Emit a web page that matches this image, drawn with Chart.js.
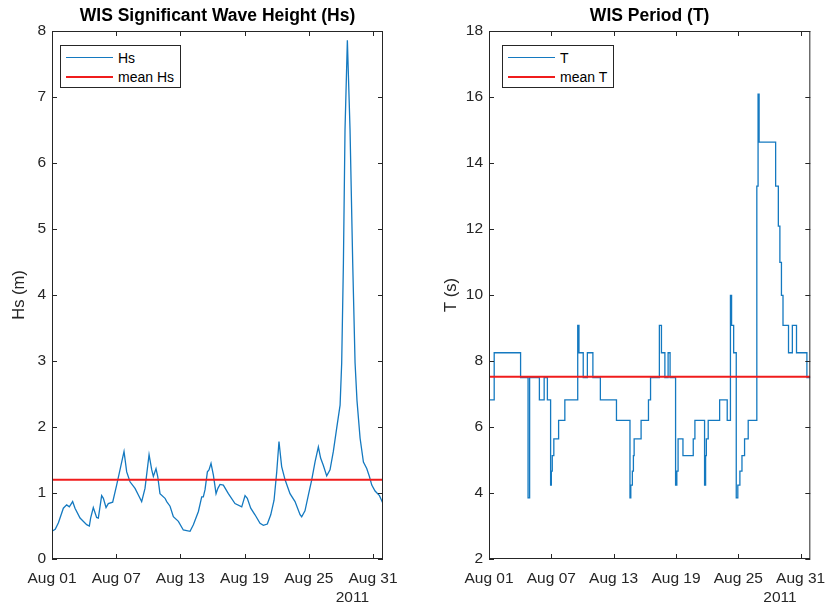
<!DOCTYPE html>
<html>
<head>
<meta charset="utf-8">
<script src="https://cdn.jsdelivr.net/npm/chart.js@4.4.1/dist/chart.umd.min.js"></script>
<style>
  body { margin: 0; background: #fff; }
  .panel { position: absolute; top: 0; width: 418px; height: 607px; }
  .legend {
    position: absolute;
    border: 1px solid #262626;
    background: #fff;
    font: 14px "Liberation Sans", Arial, sans-serif;
    color: #000;
    padding: 2px 6px 1px 5px;
  }
  .legend .row { display: flex; align-items: center; height: 19px; white-space: nowrap; }
  .legend .swatch { display: inline-block; width: 47px; height: 0; margin-right: 5px; }
</style>
</head>
<body>
<div class="panel" style="left:0">
  <canvas id="hsChart" width="418" height="607"></canvas>
  <div class="legend" id="hsLegend"></div>
</div>
<div class="panel" style="left:418px">
  <canvas id="tChart" width="418" height="607"></canvas>
  <div class="legend" id="tLegend"></div>
</div>

<script>
// days since Aug 01 2011 00:00
const tickDays = [0, 6, 12, 18, 24, 30];
const tickLabels = ['Aug 01', 'Aug 07', 'Aug 13', 'Aug 19', 'Aug 25', 'Aug 31'];
const yearLabel = '2011';
const lastDay = 30.93;

// significant wave height (m)
const hsDays = [
  0, 0.3, 0.6, 1.06, 1.37, 1.62, 1.93, 2.15, 2.62, 3.24, 3.49, 3.61, 3.86, 4.17, 4.33,
  4.64, 4.8, 5.05, 5.26, 5.67, 6.04, 6.42, 6.73, 6.98, 7.29, 7.76, 8.07, 8.38, 8.69,
  9.07, 9.32, 9.47, 9.72, 9.88, 10.09, 10.56, 10.72, 11.03, 11.34, 11.81, 12.27, 12.9,
  13.21, 13.68, 13.99, 14.14, 14.3, 14.52, 14.67, 14.86, 15.08, 15.33, 15.5, 15.7,
  16.01, 16.48, 17.1, 17.73, 18.04, 18.25, 18.57, 18.97, 19.44, 19.75, 20.12, 20.44,
  20.75, 21.0, 21.21, 21.46, 21.78, 22.24, 22.71, 23.18, 23.33, 23.64, 23.96, 24.27,
  24.58, 24.89, 25.1, 25.35, 25.67, 25.98, 26.29, 26.6, 26.92, 27.07, 27.23, 27.38,
  27.6, 27.85, 28.1, 28.32, 28.5, 28.79, 29.1, 29.41, 29.66, 29.88, 30.19, 30.6, 30.93
];
const hsValues = [
  0.42, 0.45, 0.55, 0.77, 0.82, 0.79, 0.87, 0.77, 0.62, 0.52, 0.5, 0.62, 0.78, 0.63, 0.62,
  0.96, 0.92, 0.78, 0.84, 0.86, 1.12, 1.40, 1.63, 1.32, 1.17, 1.07, 0.97, 0.87, 1.07,
  1.58, 1.35, 1.25, 1.37, 1.25, 0.99, 0.92, 0.87, 0.80, 0.64, 0.57, 0.44, 0.42,
  0.52, 0.72, 0.94, 0.94, 1.05, 1.32, 1.35, 1.45, 1.27, 0.99, 1.07, 1.13,
  1.12, 0.99, 0.84, 0.79, 0.96, 0.92, 0.77, 0.67, 0.54, 0.51, 0.53, 0.67,
  0.89, 1.32, 1.78, 1.40, 1.20, 0.99, 0.87, 0.67, 0.64, 0.73, 0.97, 1.20,
  1.47, 1.70, 1.53, 1.42, 1.26, 1.35, 1.63, 1.98, 2.33, 2.97, 4.48, 6.5,
  7.86, 6.5, 4.48, 2.97, 2.4, 1.83, 1.47, 1.37, 1.25, 1.12, 1.03, 0.96, 0.84
];
const meanHs = 1.2;

// peak period (s), value holds from each day until the next one
const tDays = [
  0, 0.5, 3.04, 3.76, 3.91, 4.85, 5.31, 5.62, 5.93, 6.0, 6.09, 6.24, 6.7, 7.3, 8.54,
  8.66, 9.07, 9.47, 10.0, 10.72, 12.27, 13.57, 13.65, 13.8, 13.9, 13.97, 14.64, 15.35,
  15.55, 16.4, 16.6, 16.93, 17.24, 17.43, 17.96, 18.08, 18.2, 18.67, 19.66, 19.82,
  20.75, 20.85, 20.92, 21.1, 22.2, 22.93, 23.24, 23.35, 23.55, 23.8, 23.95, 24.15,
  24.35, 24.6, 24.95, 25.78, 25.9, 26.0, 27.59, 27.85, 28.0, 28.15, 28.3, 28.83,
  29.2, 29.6, 30.6, 30.93
];
const tValues = [
  6.82, 8.25, 7.5, 3.85, 7.5, 6.82, 7.5, 6.82, 4.24, 4.66, 5.13, 5.64, 6.2, 6.82, 9.08,
  8.25, 7.5, 8.25, 7.5, 6.82, 6.2, 3.85, 4.24, 4.66, 5.13, 5.64, 6.2, 6.82,
  7.5, 9.08, 8.25, 7.5, 8.25, 7.5, 4.24, 4.66, 5.64, 5.13, 5.64, 6.2,
  4.24, 5.13, 5.64, 6.2, 6.82, 6.2, 9.99, 9.08, 8.25, 3.85, 4.24, 4.66,
  5.13, 5.64, 6.2, 13.3, 16.09, 14.63, 13.3, 12.09, 10.99, 9.99, 9.08, 8.25,
  9.08, 8.25, 7.5, 7.5
];
const meanT = 7.52;

const FONT = '"Liberation Sans", Arial, sans-serif';
const AXIS = '#262626';
const BLUE = '#1479c0';
const RED = '#f01c1c';

// matlab style box with inward ticks on all four sides
const matlabBox = {
  id: 'matlabBox',
  afterDatasetsDraw(chart) {
    const { ctx, chartArea: a, scales } = chart;
    const len = 5;
    ctx.save();
    ctx.strokeStyle = AXIS;
    ctx.lineWidth = 1;
    ctx.strokeRect(a.left + 0.5, a.top + 0.5, a.right - a.left - 1, a.bottom - a.top - 1);
    ctx.beginPath();
    scales.x.ticks.forEach(t => {
      const px = Math.round(scales.x.getPixelForValue(t.value)) + 0.5;
      ctx.moveTo(px, a.bottom); ctx.lineTo(px, a.bottom - len);
      ctx.moveTo(px, a.top); ctx.lineTo(px, a.top + len);
    });
    scales.y.ticks.forEach(t => {
      const py = Math.round(scales.y.getPixelForValue(t.value)) + 0.5;
      ctx.moveTo(a.left, py); ctx.lineTo(a.left + len, py);
      ctx.moveTo(a.right, py); ctx.lineTo(a.right - len, py);
    });
    ctx.stroke();
    // year under the last date tick
    ctx.fillStyle = AXIS;
    ctx.font = '15.5px ' + FONT;
    ctx.textAlign = 'right';
    ctx.textBaseline = 'middle';
    ctx.fillText(yearLabel, scales.x.getPixelForValue(tickDays[tickDays.length - 1]) - 4, 598);
    ctx.restore();
  }
};

const htmlLegend = {
  id: 'htmlLegend',
  afterUpdate(chart, args, opts) {
    const box = document.getElementById(opts.containerID);
    box.innerHTML = '';
    chart.data.datasets.forEach(ds => {
      const row = document.createElement('div');
      row.className = 'row';
      const line = document.createElement('span');
      line.className = 'swatch';
      line.style.borderTop = Math.max(1, Math.round(ds.borderWidth)) + 'px solid ' + ds.borderColor;
      const txt = document.createElement('span');
      txt.textContent = ds.label;
      row.append(line, txt);
      box.append(row);
    });
    box.style.left = (chart.chartArea.left + opts.dx) + 'px';
    box.style.top = (chart.chartArea.top + opts.dy) + 'px';
  }
};

function makeChart(id, cfg) {
  const ctx = document.getElementById(id).getContext('2d');
  return new Chart(ctx, {
    type: 'line',
    data: {
      datasets: [{
        label: cfg.label,
        data: cfg.days.map((d, i) => ({ x: d, y: cfg.values[i] })),
        borderColor: BLUE,
        borderWidth: 1.3,
        pointRadius: 0,
        tension: 0,
        stepped: cfg.stepped,
        order: 1
      }, {
        label: 'mean ' + cfg.label,
        data: [{ x: 0, y: cfg.mean }, { x: lastDay, y: cfg.mean }],
        borderColor: RED,
        borderWidth: 2,
        pointRadius: 0,
        order: 0
      }]
    },
    options: {
      responsive: false,
      animation: false,
      layout: { padding: { left: 0, right: cfg.padRight, top: 0, bottom: 0 } },
      plugins: {
        legend: { display: false },
        tooltip: { enabled: false },
        title: {
          display: true,
          text: cfg.title,
          fullSize: false,
          color: '#000',
          font: { family: FONT, size: 17.5, weight: 'bold' },
          padding: { top: 6, bottom: 4 }
        },
        htmlLegend: { containerID: cfg.legendId, dx: cfg.legendDx, dy: 14 }
      },
      scales: {
        x: {
          type: 'linear',
          min: 0,
          max: lastDay,
          grid: { display: false, drawTicks: false },
          border: { display: false },
          afterBuildTicks: scale => { scale.ticks = tickDays.map(v => ({ value: v })); },
          afterFit: scale => { scale.height = 48; },
          ticks: {
            color: AXIS,
            font: { family: FONT, size: 15.5 },
            padding: 10,
            maxRotation: 0,
            autoSkip: false,
            callback: v => tickLabels[tickDays.indexOf(v)]
          }
        },
        y: {
          min: cfg.yMin,
          max: cfg.yMax,
          grid: { display: false, drawTicks: false },
          border: { display: false },
          afterFit: scale => { scale.width = cfg.yWidth; },
          ticks: {
            stepSize: cfg.yStep,
            color: AXIS,
            font: { family: FONT, size: 15.5 },
            padding: 6
          },
          title: {
            display: true,
            text: cfg.yTitle,
            color: AXIS,
            font: { family: FONT, size: 16.5 },
            padding: { top: cfg.yTitlePad, bottom: 0 }
          }
        }
      }
    },
    plugins: [matlabBox, htmlLegend]
  });
}

makeChart('hsChart', {
  label: 'Hs', title: 'WIS Significant Wave Height (Hs)', yTitle: 'Hs (m)',
  days: hsDays, values: hsValues, mean: meanHs, stepped: false,
  yMin: 0, yMax: 8, yStep: 1, yWidth: 52, yTitlePad: 10, padRight: 35,
  legendId: 'hsLegend', legendDx: 8
});

makeChart('tChart', {
  label: 'T', title: 'WIS Period (T)', yTitle: 'T (s)',
  days: tDays, values: tValues, mean: meanT, stepped: true,
  yMin: 2, yMax: 18, yStep: 2, yWidth: 71, yTitlePad: 24, padRight: 16,
  legendId: 'tLegend', legendDx: 13
});
</script>
</body>
</html>
